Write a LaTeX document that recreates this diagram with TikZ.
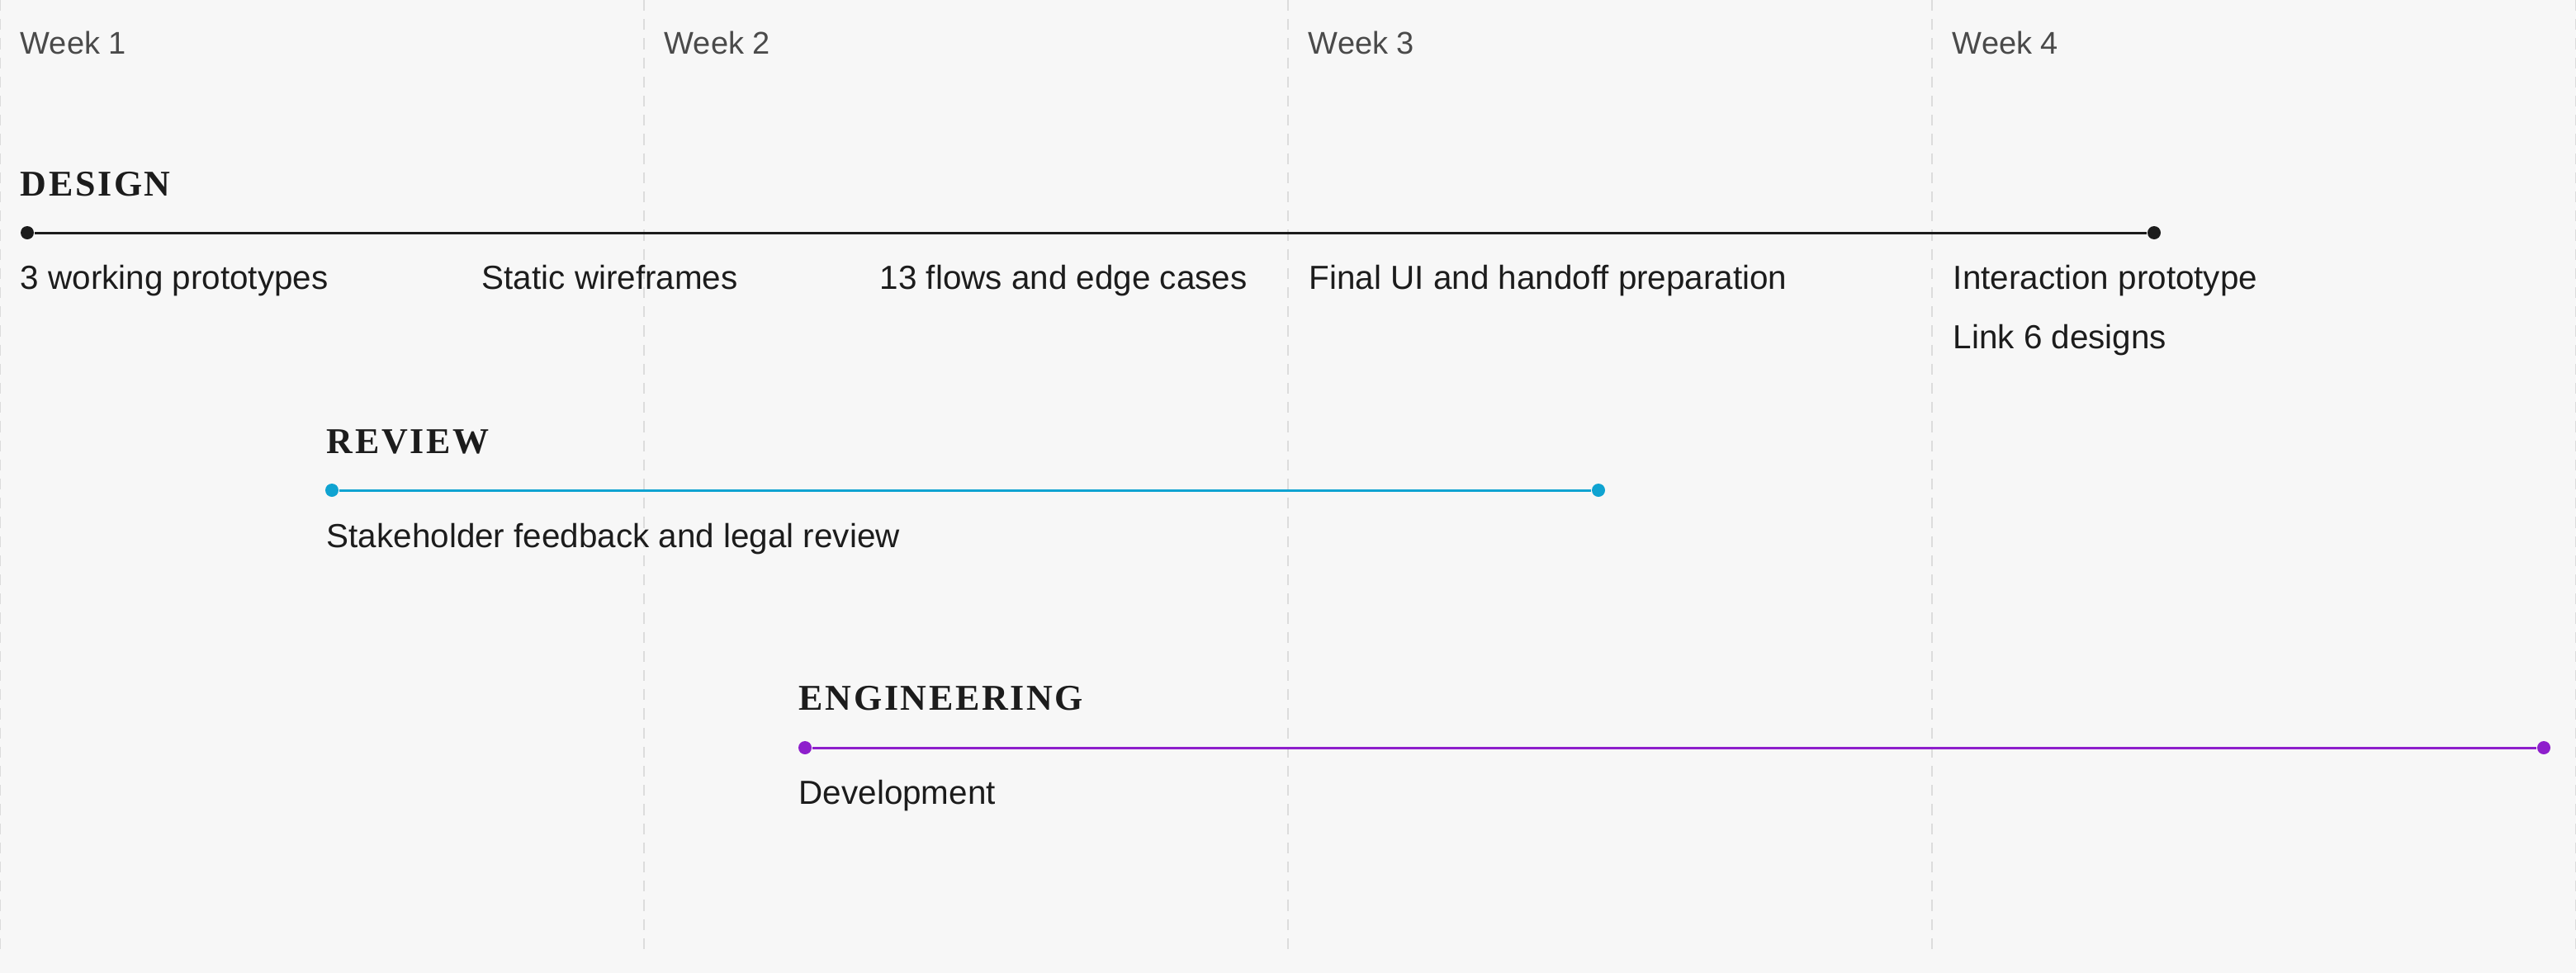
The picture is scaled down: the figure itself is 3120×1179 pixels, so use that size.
\documentclass[tikz,border=0pt]{standalone}
\usepackage{fontspec}
\setmainfont{Liberation Sans}
\newfontfamily\trackfont[LetterSpace=6]{Liberation Serif}

\definecolor{paper}{HTML}{F7F7F7}
\definecolor{gridgray}{HTML}{DCDCDC}
\definecolor{weekgray}{HTML}{4A4A4A}
\definecolor{ink}{HTML}{1C1C1C}
\definecolor{reviewblue}{HTML}{0FA3D1}
\definecolor{engpurple}{HTML}{8E1FCC}

\tikzset{
  week/.style={anchor=base west, inner sep=0, text=weekgray, font=\fontsize{9.5}{11}\selectfont},
  track/.style={anchor=base west, inner sep=0, text=ink, font=\trackfont\bfseries\fontsize{11}{13}\selectfont},
  task/.style={anchor=base west, inner sep=0, text=ink, font=\fontsize{10.1}{12}\selectfont},
  dot/.style={circle, fill=#1, inner sep=0, minimum size=4pt},
  bar/.style={line width=0.75pt, draw=#1},
}

\begin{document}
\begin{tikzpicture}[x=0.25pt, y=-0.25pt]

  \fill[paper] (0,0) rectangle (3120,1179);
  \useasboundingbox (0,0) rectangle (3120,1179);

  % week grid
  \foreach \x in {0,780,1560,2340,3120}
    \draw[gridgray, line width=0.5pt, dash pattern=on 3.3pt off 2.5pt] (\x,0) -- (\x,1155);
  \foreach \n/\x in {1/24,2/804,3/1584,4/2364}
    \node[week] (week\n) at (\x,65) {Week \n};

  % design
  \node[track] (design) at (24,237) {DESIGN};
  \node[dot=ink] (designS) at (33,282) {};
  \node[dot=ink] (designE) at (2609,282) {};
  \draw[bar=ink] (designS) -- (designE);
  \node[task] (proto) at (24,350) {3 working prototypes};
  \node[task] (wire) at (583,350) {Static wireframes};
  \node[task] (flows) at (1065,350) {13 flows and edge cases};
  \node[task] (final) at (1585,350) {Final UI and handoff preparation};
  \node[task] (inter) at (2365,350) {Interaction prototype};
  \node[task] (link) at (2365,422) {Link 6 designs};

  % review
  \node[track] (review) at (395,549) {REVIEW};
  \node[dot=reviewblue] (reviewS) at (402,594) {};
  \node[dot=reviewblue] (reviewE) at (1936,594) {};
  \draw[bar=reviewblue] (reviewS) -- (reviewE);
  \node[task] (feedback) at (395,663) {Stakeholder feedback and legal review};

  % engineering
  \node[track] (eng) at (967,860) {ENGINEERING};
  \node[dot=engpurple] (engS) at (975,906) {};
  \node[dot=engpurple] (engE) at (3081,906) {};
  \draw[bar=engpurple] (engS) -- (engE);
  \node[task] (dev) at (967,974) {Development};

\end{tikzpicture}
\end{document}
